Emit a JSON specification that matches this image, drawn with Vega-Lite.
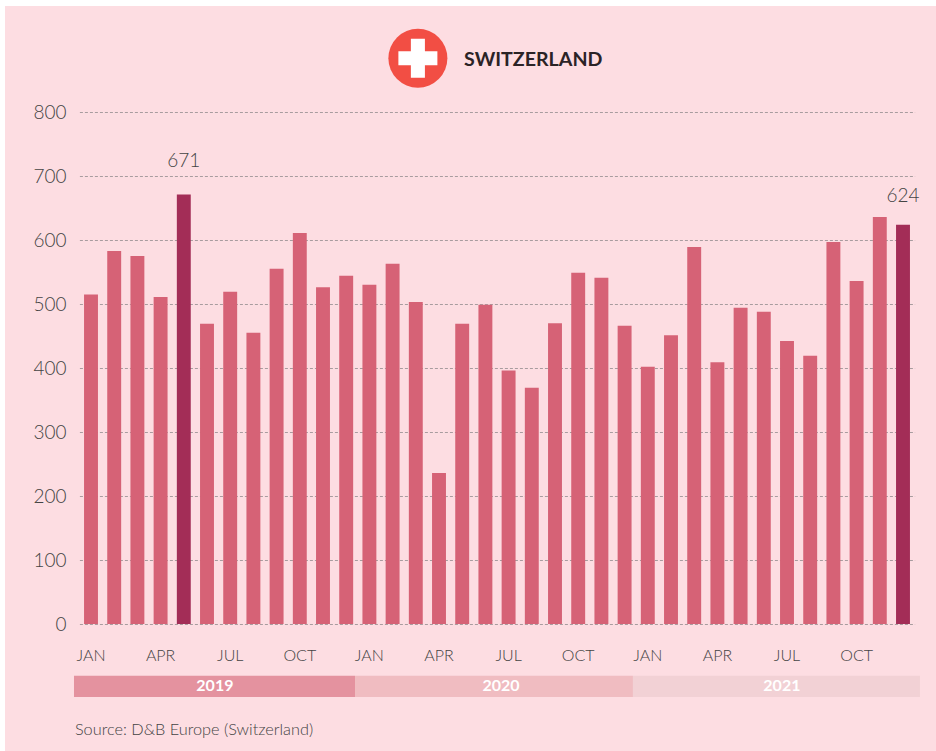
{"$schema":"https://vega.github.io/schema/vega-lite/v6.json","width":931,"height":745,"padding":{"left":5,"top":6,"right":0,"bottom":0},"autosize":{"type":"none"},"background":"#ffffff","view":{"fill":"#FDDDE2","stroke":null},"config":{"font":"Lato"},
"datasets":{"monthly":[
{"period":"2019-01","kind":"normal","value":515},{"period":"2019-02","kind":"normal","value":583},{"period":"2019-03","kind":"normal","value":575},{"period":"2019-04","kind":"normal","value":511},{"period":"2019-05","kind":"peak","value":671},{"period":"2019-06","kind":"normal","value":469},{"period":"2019-07","kind":"normal","value":519},{"period":"2019-08","kind":"normal","value":455},{"period":"2019-09","kind":"normal","value":555},{"period":"2019-10","kind":"normal","value":611},{"period":"2019-11","kind":"normal","value":526},{"period":"2019-12","kind":"normal","value":544},
{"period":"2020-01","kind":"normal","value":530},{"period":"2020-02","kind":"normal","value":563},{"period":"2020-03","kind":"normal","value":503},{"period":"2020-04","kind":"normal","value":236},{"period":"2020-05","kind":"normal","value":469},{"period":"2020-06","kind":"normal","value":499},{"period":"2020-07","kind":"normal","value":396},{"period":"2020-08","kind":"normal","value":369},{"period":"2020-09","kind":"normal","value":470},{"period":"2020-10","kind":"normal","value":549},{"period":"2020-11","kind":"normal","value":541},{"period":"2020-12","kind":"normal","value":466},
{"period":"2021-01","kind":"normal","value":402},{"period":"2021-02","kind":"normal","value":451},{"period":"2021-03","kind":"normal","value":589},{"period":"2021-04","kind":"normal","value":409},{"period":"2021-05","kind":"normal","value":494},{"period":"2021-06","kind":"normal","value":488},{"period":"2021-07","kind":"normal","value":442},{"period":"2021-08","kind":"normal","value":419},{"period":"2021-09","kind":"normal","value":597},{"period":"2021-10","kind":"normal","value":536},{"period":"2021-11","kind":"normal","value":636},{"period":"2021-12","kind":"peak","value":624}],
"callouts":[{"period":"2019-05","at":723,"label":"671"},{"period":"2021-12","at":669,"label":"624"}],
"years":[{"year":"2019","start":-0.233,"end":11.88,"mid":5.84},{"year":"2020","start":11.88,"end":23.86,"mid":18.17},{"year":"2021","start":23.86,"end":36.23,"mid":30.28}]},
"layer":[
{"layer":[
{"data":{"name":"monthly"},"mark":{"type":"bar","clip":false},"encoding":{
"x":{"field":"period","type":"ordinal","sort":null,"scale":{"type":"band","range":[74.4,909.6],"paddingInner":0.4,"paddingOuter":0.2},"axis":{"title":null,"values":["2019-01","2019-04","2019-07","2019-10","2020-01","2020-04","2020-07","2020-10","2021-01","2021-04","2021-07","2021-10"],"labelExpr":"{'01':'JAN','04':'APR','07':'JUL','10':'OCT'}[slice(datum.value,5)]","labelAngle":0,"labelFontSize":16,"labelFontWeight":300,"labelColor":"#444444","labelFont":"Lato","labelPadding":0,"tickSize":0,"domain":false,"grid":false,"offset":-103.5,"labelBaseline":"top"}},
"y":{"field":"value","type":"quantitative","scale":{"domain":[0,800],"range":[618,106],"nice":false},"axis":{"title":null,"values":[0,100,200,300,400,500,600,700,800],"labelFontSize":19,"labelFontWeight":300,"labelColor":"#444444","labelFont":"Lato","labelPadding":0,"labelOffset":0.5,"tickSize":0,"domain":false,"offset":-61,"grid":true,"gridColor":"#A89C9F","gridDash":[3,2],"gridWidth":1.2}},
"color":{"condition":{"test":"datum.kind==='peak'","value":"#A32D57"},"value":"#D66276"}}},
{"data":{"name":"callouts"},"mark":{"type":"text","fontSize":19,"fontWeight":300,"color":"#444444","baseline":"middle"},"encoding":{
"x":{"field":"period","type":"ordinal","sort":null},
"y":{"field":"at","type":"quantitative"},
"text":{"field":"label"}}}
]},
{"data":{"name":"years"},"mark":{"type":"rect"},"encoding":{
"x":{"field":"start","type":"quantitative","scale":{"domain":[0,36],"range":[74.4,909.6],"nice":false,"zero":false},"axis":null},"x2":{"field":"end"},
"y":{"datum":-81,"type":"quantitative"},"y2":{"datum":-114},
"color":{"field":"year","type":"nominal","legend":null,"scale":{"domain":["2019","2020","2021"],"range":["#E4929F","#F0BCC1","#F2D1D5"]}}}},
{"data":{"name":"years"},"mark":{"type":"text","fontSize":16,"fontWeight":"bold","color":"#ffffff","baseline":"middle"},"encoding":{
"x":{"field":"mid","type":"quantitative","scale":{"domain":[0,36],"range":[74.4,909.6],"nice":false,"zero":false},"axis":null},
"y":{"datum":-97,"type":"quantitative"},
"text":{"field":"year"}}},
{"data":{"values":[{"m":14.59,"at":884}]},"mark":{"type":"point","filled":true,"shape":"circle","size":3481,"color":"#F24E44","opacity":1},"encoding":{
"x":{"field":"m","type":"quantitative","scale":{"domain":[0,36],"range":[74.4,909.6],"nice":false,"zero":false},"axis":null},
"y":{"field":"at","type":"quantitative"}}},
{"data":{"values":[{"m":14.59,"at":884}]},"mark":{"type":"point","filled":true,"shape":"M-1,-0.36H-0.36V-1H0.36V-0.36H1V0.36H0.36V1H-0.36V0.36H-1Z","size":1521,"color":"#ffffff","opacity":1},"encoding":{
"x":{"field":"m","type":"quantitative","scale":{"domain":[0,36],"range":[74.4,909.6],"nice":false,"zero":false},"axis":null},
"y":{"field":"at","type":"quantitative"}}},
{"data":{"values":[{"m":16.58,"at":882,"t":"SWITZERLAND"}]},"mark":{"type":"text","fontSize":19.6,"fontWeight":"bold","color":"#2B2326","align":"left","baseline":"middle"},"encoding":{
"x":{"field":"m","type":"quantitative","scale":{"domain":[0,36],"range":[74.4,909.6],"nice":false,"zero":false},"axis":null},
"y":{"field":"at","type":"quantitative"},"text":{"field":"t"}}},
{"data":{"values":[{"m":-0.19,"at":-166,"t":"Source: D&B Europe (Switzerland)"}]},"mark":{"type":"text","fontSize":16.3,"fontWeight":300,"color":"#444444","align":"left","baseline":"middle"},"encoding":{
"x":{"field":"m","type":"quantitative","scale":{"domain":[0,36],"range":[74.4,909.6],"nice":false,"zero":false},"axis":null},
"y":{"field":"at","type":"quantitative"},"text":{"field":"t"}}}
],
"resolve":{"scale":{"x":"independent"}}}
